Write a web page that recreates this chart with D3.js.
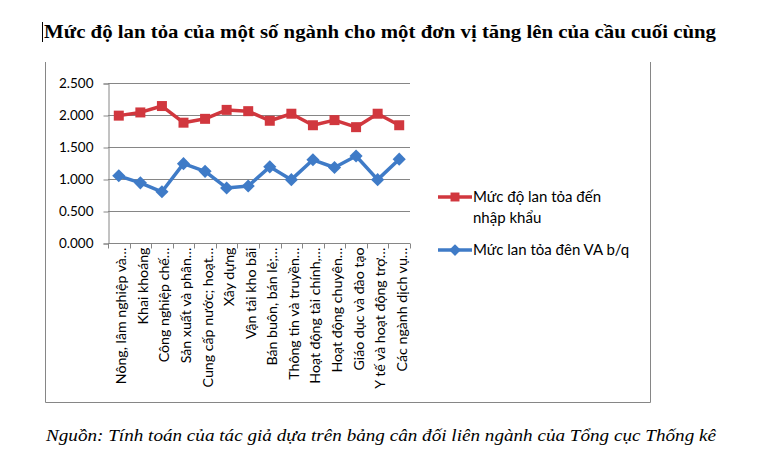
<!DOCTYPE html>
<html>
<head>
<meta charset="utf-8">
<script src="https://cdn.jsdelivr.net/npm/d3@7"></script>
<style>
  body { margin: 0; background: #fff; }
  svg { display: block; }
</style>
</head>
<body>
<div id="chart"></div>
<script>
var WIDTH = 763;
var HEIGHT = 469;

var categories = [
    "Nông, lâm nghiệp và…", "Khai khoáng", "Công nghiệp chế…", "Sản xuất và phân…",
    "Cung cấp nước; hoạt…", "Xây dựng", "Vận tải kho bãi", "Bán buôn,  bán lẻ;…",
    "Thông tin và truyền…", "Hoạt động tài chính,…", "Hoạt động chuyên…", "Giáo dục và đào tạo",
    "Y tế và hoạt động trợ…", "Các ngành dịch vụ…"
];
var importSpill = [1.99, 2.04, 2.14, 1.88, 1.94, 2.08, 2.06, 1.91, 2.02, 1.84, 1.92, 1.81, 2.02, 1.84];
var vaSpill = [1.05, 0.94, 0.80, 1.24, 1.12, 0.86, 0.89, 1.19, 0.99, 1.30, 1.18, 1.36, 0.99, 1.31];
var yTicks = [0, 0.5, 1, 1.5, 2, 2.5];

var TITLE = "Mức độ lan tỏa của một số ngành cho một đơn vị tăng lên của cầu cuối cùng";
var SOURCE = "Nguồn: Tính toán của tác giả dựa trên bảng cân đối liên ngành của Tổng cục Thống kê";

var series = [
    { name: ["Mức độ lan tỏa đến", "nhập khẩu"], values: importSpill, color: "#d1373e", symbol: d3.symbolSquare, size: 100 },
    { name: ["Mức lan tỏa đên VA b/q"], values: vaSpill, color: "#3f7bc7", symbol: d3.symbolDiamond2, size: 110 }
];

var SVG = d3.select("#chart").append("svg")
    .attr("width", WIDTH)
    .attr("height", HEIGHT);

// title with the little text cursor in front
SVG.append("line")
    .attr("x1", 42.5).attr("x2", 42.5).attr("y1", 22).attr("y2", 42)
    .attr("stroke", "#000").attr("stroke-width", 1);
SVG.append("text")
    .attr("x", 44).attr("y", 38)
    .attr("font-family", "Liberation Serif")
    .attr("font-weight", "bold")
    .attr("font-size", 19.5)
    .attr("textLength", 672)
    .attr("lengthAdjust", "spacingAndGlyphs")
    .text(TITLE);

// chart frame (no top edge)
SVG.append("path")
    .attr("d", "M45.5,62V402.5H650.5V62")
    .attr("fill", "none")
    .attr("stroke", "#868686")
    .attr("stroke-width", 1);

var plot = { left: 108, right: 410, top: 83, bottom: 243 };

var x = d3.scaleBand()
    .domain(d3.range(categories.length))
    .range([plot.left, plot.right]);

var y = d3.scaleLinear()
    .domain([0, 2.5])
    .range([plot.bottom, plot.top]);

// gridlines
SVG.append("g")
    .selectAll("line")
    .data(yTicks)
    .join("line")
    .attr("x1", plot.left).attr("x2", plot.right)
    .attr("y1", d => Math.round(y(d)) + 0.5)
    .attr("y2", d => Math.round(y(d)) + 0.5)
    .attr("stroke", "#868686");

// y axis
var yAxis = SVG.append("g")
    .attr("transform", `translate(${plot.left + 0.5},0.5)`)
    .call(d3.axisLeft(y).tickValues(yTicks).tickSize(5).tickPadding(10).tickFormat(d3.format(".3f")));
yAxis.selectAll("path, line").attr("stroke", "#868686");
yAxis.selectAll("text")
    .attr("font-family", "Lato")
    .attr("font-size", 13.5)
    .attr("fill", "#000");

// x axis: ticks at category boundaries
var xAxis = SVG.append("g")
    .attr("transform", `translate(0,${plot.bottom + 0.5})`);
xAxis.append("line")
    .attr("x1", plot.left).attr("x2", plot.right)
    .attr("stroke", "#868686");
xAxis.selectAll("line.tick")
    .data(d3.range(categories.length + 1))
    .join("line")
    .attr("class", "tick")
    .attr("x1", d => Math.round(plot.left + d * x.bandwidth()) + 0.5)
    .attr("x2", d => Math.round(plot.left + d * x.bandwidth()) + 0.5)
    .attr("y1", 0).attr("y2", 5)
    .attr("stroke", "#868686");
xAxis.selectAll("text")
    .data(categories)
    .join("text")
    .attr("transform", (d, i) => `translate(${x(i) + x.bandwidth() / 2 + 7.5},4) rotate(-90)`)
    .attr("text-anchor", "end")
    .attr("font-family", "Lato")
    .attr("font-size", 14.2)
    .text(d => d);

// lines + markers
var line = d3.line()
    .x((d, i) => x(i) + x.bandwidth() / 2)
    .y(d => y(d));

series.forEach(s => {
    SVG.append("path")
        .datum(s.values)
        .attr("d", line)
        .attr("fill", "none")
        .attr("stroke", s.color)
        .attr("stroke-width", 3.5)
        .attr("stroke-linejoin", "round");

    SVG.append("g")
        .selectAll("path")
        .data(s.values)
        .join("path")
        .attr("transform", (d, i) => `translate(${x(i) + x.bandwidth() / 2},${y(d)})`)
        .attr("d", d3.symbol().type(s.symbol).size(s.size))
        .attr("fill", s.color);
});

// legend
var legend = SVG.append("g");
var legendY = [197, 250];
series.forEach((s, i) => {
    var g = legend.append("g").attr("transform", `translate(438,${legendY[i]})`);
    g.append("line")
        .attr("x1", 0).attr("x2", 34)
        .attr("stroke", s.color).attr("stroke-width", 3.5);
    g.append("path")
        .attr("transform", "translate(17,0)")
        .attr("d", d3.symbol().type(s.symbol).size(s.size * 0.8))
        .attr("fill", s.color);
    g.selectAll("text")
        .data(s.name)
        .join("text")
        .attr("x", 35)
        .attr("y", (d, j) => j * 21)
        .attr("dy", "0.35em")
        .attr("font-family", "Lato")
        .attr("font-size", 15)
        .text(d => d);
});

// source note
SVG.append("text")
    .attr("x", 46).attr("y", 441)
    .attr("font-family", "Liberation Serif")
    .attr("font-style", "italic")
    .attr("font-size", 17)
    .attr("textLength", 670)
    .attr("lengthAdjust", "spacingAndGlyphs")
    .text(SOURCE);
</script>
</body>
</html>
